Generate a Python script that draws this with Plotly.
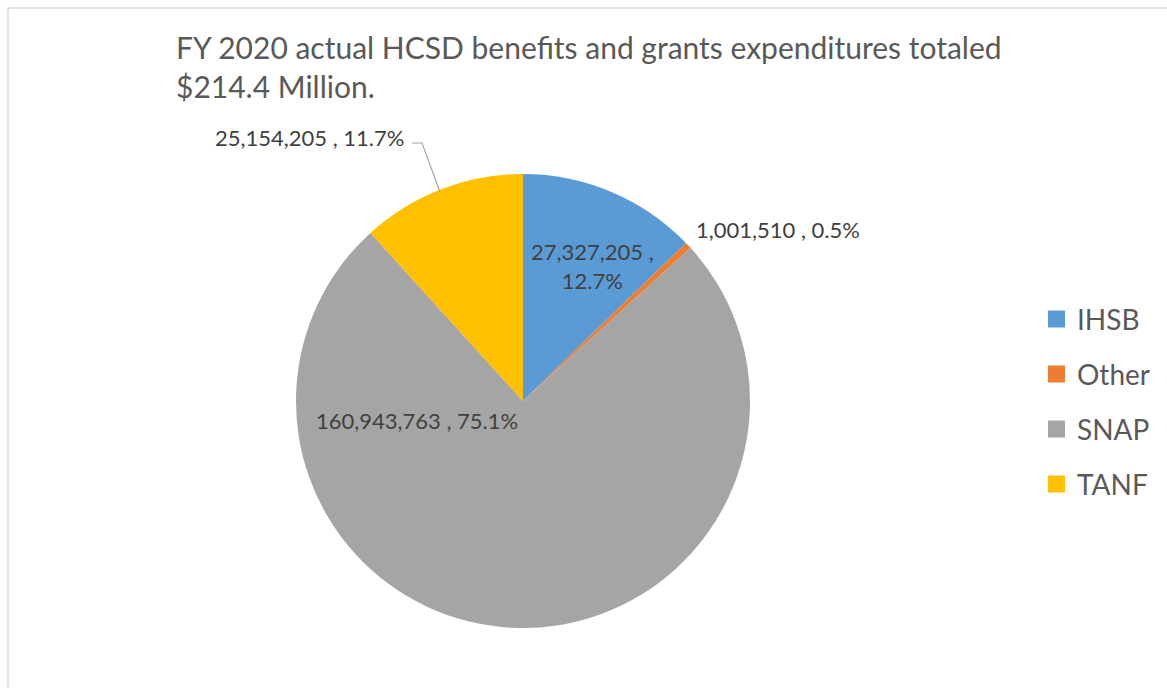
import plotly.graph_objects as go

# Benefits and grants expenditures by program, FY 2020
programs = ["IHSB", "Other", "SNAP", "TANF"]
amounts = [27327205, 1001510, 160943763, 25154205]
colors = ["#5B9BD5", "#ED7D31", "#A5A5A5", "#FFC000"]
title_text = "FY 2020 actual HCSD benefits and grants expenditures totaled<br>$214.4 Million."

W, H = 1167, 688
FONT = "Lato"
TEXT_GREY = "#595959"
LABEL_GREY = "#404040"


def px(x):
    return x / W


def py(y):
    return 1 - y / H


total = sum(amounts)
shares = [a / total * 100 for a in amounts]
labels = [f"{a:,} , {s:.1f}%" for a, s in zip(amounts, shares)]

# pie placement (pixels)
cx, cy, R = 523, 401, 227

fig = go.Figure(
    go.Pie(
        labels=programs,
        values=amounts,
        sort=False,
        direction="clockwise",
        rotation=0,
        marker=dict(colors=colors, line=dict(width=0)),
        textinfo="none",
        hoverinfo="label+value+percent",
        showlegend=False,
        domain=dict(x=[px(cx - R), px(cx + R)], y=[py(cy + R), py(cy - R)]),
    )
)

annotations = []
shapes = []

# chart title
annotations.append(dict(
    x=px(174), y=py(27), xref="paper", yref="paper", xanchor="left", yanchor="top",
    text=title_text, showarrow=False, align="left",
    font=dict(family=FONT, size=30, color=TEXT_GREY),
))

# data labels
lab_font = dict(family=FONT, size=22, color=LABEL_GREY)
ihsb_lbl = labels[0].replace(" , ", " ,<br>")
annotations += [
    dict(x=px(592), y=py(266), text=ihsb_lbl, xanchor="center", yanchor="middle", align="center"),
    dict(x=px(694), y=py(230), text=labels[1], xanchor="left", yanchor="middle"),
    dict(x=px(314), y=py(420), text=labels[2], xanchor="left", yanchor="middle"),
    dict(x=px(406), y=py(137), text=labels[3], xanchor="right", yanchor="middle"),
]
for a in annotations[1:]:
    a.update(xref="paper", yref="paper", showarrow=False, font=lab_font)

# leader line for the TANF label
shapes.append(dict(
    type="path", xref="paper", yref="paper",
    path=f"M {px(412)},{py(143)} L {px(422)},{py(143)} L {px(440)},{py(192)}",
    line=dict(color="#A6A6A6", width=1.2),
))

# legend
leg_y0, leg_dy, sq = 319, 55, 17
for i, (name, col) in enumerate(zip(programs, colors)):
    yc = leg_y0 + i * leg_dy
    shapes.append(dict(
        type="rect", xref="paper", yref="paper",
        x0=px(1048), x1=px(1048 + sq), y0=py(yc + sq / 2), y1=py(yc - sq / 2),
        fillcolor=col, line=dict(width=0),
    ))
    annotations.append(dict(
        x=px(1075), y=py(yc), xref="paper", yref="paper", xanchor="left", yanchor="middle",
        text=name, showarrow=False, font=dict(family=FONT, size=28, color=TEXT_GREY),
    ))

# chart area border (top and left edges)
shapes.append(dict(
    type="path", xref="paper", yref="paper",
    path=f"M {px(8)},{py(H + 5)} L {px(8)},{py(8)} L {px(W + 5)},{py(8)}",
    line=dict(color="#D9D9D9", width=1.5),
))

fig.update_layout(
    width=W, height=H,
    margin=dict(l=0, r=0, t=0, b=0),
    paper_bgcolor="white",
    plot_bgcolor="white",
    annotations=annotations,
    shapes=shapes,
)

fig.write_html("out.html")
